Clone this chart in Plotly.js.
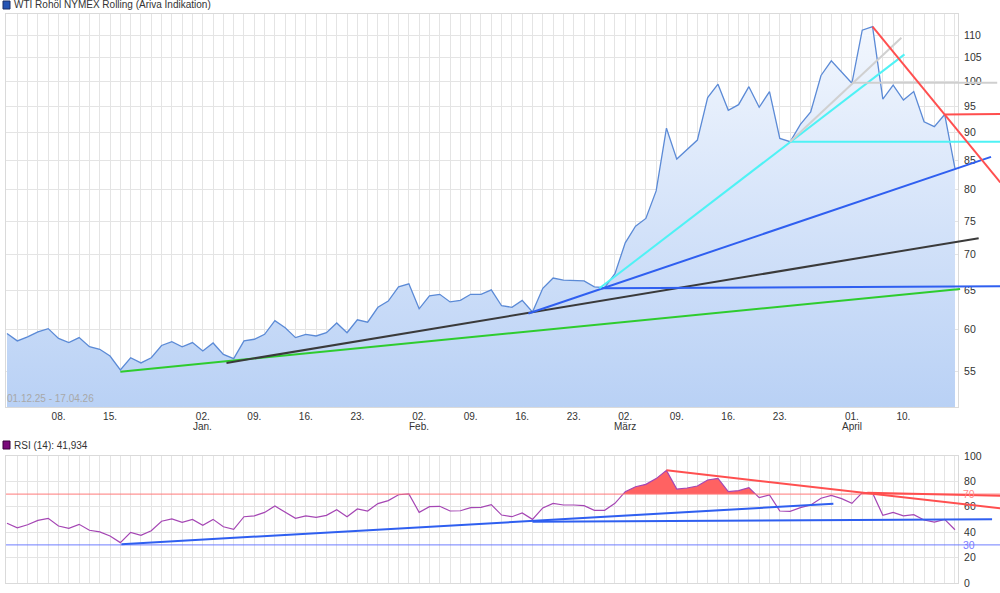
<!DOCTYPE html>
<html><head><meta charset="utf-8">
<script src="https://cdn.plot.ly/plotly-3.0.1.min.js"></script>
<style>html,body{margin:0;padding:0;background:#fff}#chart{width:1000px;height:593px}</style>
</head><body><div id="chart"></div>
<script>
// ---------------- DATA ----------------
const dates = [
 '2025-12-01','2025-12-02','2025-12-03','2025-12-04','2025-12-05','2025-12-08','2025-12-09','2025-12-10','2025-12-11','2025-12-12',
 '2025-12-15','2025-12-16','2025-12-17','2025-12-18','2025-12-19','2025-12-22','2025-12-23','2025-12-29','2025-12-30',
 '2026-01-02','2026-01-05','2026-01-06','2026-01-07','2026-01-08','2026-01-09','2026-01-12','2026-01-13','2026-01-14','2026-01-15','2026-01-16',
 '2026-01-19','2026-01-20','2026-01-21','2026-01-22','2026-01-23','2026-01-26','2026-01-27','2026-01-28','2026-01-29','2026-01-30',
 '2026-02-02','2026-02-03','2026-02-04','2026-02-05','2026-02-06','2026-02-09','2026-02-10','2026-02-11','2026-02-12','2026-02-13',
 '2026-02-16','2026-02-17','2026-02-18','2026-02-19','2026-02-20','2026-02-23','2026-02-24','2026-02-25','2026-02-26','2026-02-27',
 '2026-03-02','2026-03-03','2026-03-04','2026-03-05','2026-03-06','2026-03-09','2026-03-10','2026-03-11','2026-03-12','2026-03-13',
 '2026-03-16','2026-03-17','2026-03-18','2026-03-19','2026-03-20','2026-03-23','2026-03-24','2026-03-25','2026-03-26','2026-03-27',
 '2026-03-30','2026-03-31','2026-04-01','2026-04-02','2026-04-07','2026-04-08','2026-04-09','2026-04-10',
 '2026-04-13','2026-04-14','2026-04-15','2026-04-16','2026-04-17'
];
const price = [
 59.5,58.6,59.1,59.7,60.1,58.9,58.4,59.0,57.9,57.6,
 56.8,55.2,56.6,56.0,56.6,58.05,58.5,57.9,58.4,
 57.4,58.35,57.0,56.5,58.6,58.8,59.4,61.1,60.2,59.0,59.4,
 59.2,59.6,60.8,59.6,61.2,60.9,62.8,63.6,65.5,65.9,
 62.6,64.3,64.5,63.5,63.7,64.5,64.5,65.1,63.0,62.8,
 63.7,62.2,65.3,66.7,66.4,66.4,66.3,65.5,65.4,67.3,
 71.7,74.2,75.4,79.8,90.8,85.2,86.9,88.6,96.7,99.4,
 94.2,95.3,98.9,94.8,97.9,88.9,88.3,91.5,93.9,101.2,
 104.3,102.0,99.6,111.1,111.9,96.4,99.2,96.2,
 97.9,92.0,91.1,93.4,83.6
];
const rsi = [
 47.0,43.5,45.9,49.3,50.9,44.9,43.0,46.2,41.5,40.2,
 37.0,31.8,39.9,37.5,41.2,48.6,50.4,47.8,50.1,
 45.4,50.1,44.3,42.3,52.2,52.8,55.6,60.6,56.0,50.9,52.8,
 51.7,53.3,57.7,52.2,58.3,56.7,62.5,64.9,69.5,70.1,
 55.6,60.1,60.4,56.7,56.9,59.3,59.6,61.7,53.5,52.2,
 55.1,50.1,59.1,62.7,61.4,61.4,60.9,57.2,57.2,62.7,
 71.9,75.8,77.7,82.2,88.7,74.0,74.8,76.4,81.1,82.4,
 71.9,72.7,75.1,67.2,69.3,56.7,56.4,59.3,61.4,66.7,
 69.0,66.4,62.7,71.1,70.9,53.3,55.6,52.8,
 53.8,49.6,48.0,50.1,41.934
];
const tickDates  = ['2025-12-08','2025-12-15','2026-01-02','2026-01-09','2026-01-16','2026-01-23','2026-02-02','2026-02-09','2026-02-16','2026-02-23','2026-03-02','2026-03-09','2026-03-16','2026-03-23','2026-04-01','2026-04-10'];
const tickLabels = ['08.','15.','02.','09.','16.','23.','02.','09.','16.','23.','02.','09.','16.','23.','01.','10.'];
const monthDates  = ['2026-01-02','2026-02-02','2026-03-02','2026-04-01'];
const monthLabels = ['Jan.','Feb.','März','April'];
const priceTicks = [55,60,65,70,75,80,85,90,95,100,105,110];
const rsiTicks = [0,20,40,60,80,100];
const rsiLevels = [70,30];
// price trend lines: start/end position in trading-day index, start/end value
const trendX0 = [11, 21.3, 50.6, 57.7, 57.5, 76, 76, 82, 84, 91];
const trendY0 = [55.0, 56.0, 62.0, 65.3, 65.3, 88.3, 88.3, 99.7, 111.9, 93.4];
const trendX1 = [92.5, 94.3, 95.5, 97.4, 87.1, 97.4, 86.8, 96.1, 96.4, 97.4];
const trendY1 = [65.2, 72.4, 85.6, 65.6, 105.7, 88.3, 109.4, 99.7, 81.2, 93.5];
// RSI trend lines
const rsiTrendX0 = [11.1, 51, 64, 83.5];
const rsiTrendY0 = [30.5, 48.3, 88.7, 71.0];
const rsiTrendX1 = [80.2, 95.6, 96.4, 96.4];
const rsiTrendY1 = [62.4, 50.2, 58.8, 68.6];

// ---------------- STYLE / GEOMETRY ----------------
const trendColors = ['#2ecc2e','#3a3a3a','#2f5ff0','#2f5ff0','#4ff2f5','#4ff2f5','#d0d0d0','#cfcfcf','#ff4f4f','#ff4f4f'];
const rsiTrendColors = ['#2f5ff0','#2f5ff0','#ff4f4f','#ff4f4f'];
const rsiLevelColors = ['#ff7a7a','#6f7dff'];
const W = 1000, H = 593;
const P = {left:6, right:958, far:1000, mainTop:14, mainBot:407, rsiTop:456, rsiBot:583, x0:7, step:10.304};
const FONT = 'Liberation Sans, Arial, sans-serif';
const GRID = '#e4e4e4';

const xi = dates.map((d,i)=>i);
const tickVals = tickDates.map(d=>dates.indexOf(d));
const xMain = [(P.left-P.x0)/P.step, (P.right-P.x0)/P.step];
const xFar  = [(P.left-P.x0)/P.step, (P.far-P.x0)/P.step];
const pxPerDecade = 1118.5, y110 = 35;
const yLog = [Math.log10(110)-(P.mainBot-y110)/pxPerDecade, Math.log10(110)+(y110-P.mainTop)/pxPerDecade];
const dom = (top,bot)=>[1-bot/H, 1-top/H];

// RSI fill above 70 (with crossing points)
const fx=[], fy=[];
for(let i=0;i<rsi.length;i++){
  if(i>0){
    const a=rsi[i-1]-70, b=rsi[i]-70;
    if((a>0&&b<0)||(a<0&&b>0)){ const t=a/(a-b); fx.push(i-1+t); fy.push(70); }
  }
  fx.push(i); fy.push(Math.max(rsi[i],70));
}

const traces = [];
traces.push({x:xi, y:price, type:'scatter', mode:'lines', xaxis:'x', yaxis:'y',
  line:{color:'#5b8ad6', width:1.3}, fill:'tozeroy',
  fillgradient:{type:'vertical', start:Math.pow(10,yLog[0]), stop:Math.pow(10,yLog[1]),
    colorscale:[[0,'#b9d1f5'],[0.45,'#d3e2f9'],[1,'#f4f8fe']]}, hoverinfo:'skip'});
trendX0.forEach((x0,k)=>{
  traces.push({x:[x0,trendX1[k]], y:[trendY0[k],trendY1[k]], type:'scatter', mode:'lines',
    xaxis:'x3', yaxis:'y3', line:{color:trendColors[k], width:2}, hoverinfo:'skip'});
});
traces.push({x:[0,rsi.length-1], y:[70,70], type:'scatter', mode:'lines', xaxis:'x2', yaxis:'y2',
  line:{width:0, color:'rgba(0,0,0,0)'}, hoverinfo:'skip'});
traces.push({x:fx, y:fy, type:'scatter', mode:'lines', xaxis:'x2', yaxis:'y2', fill:'tonexty',
  fillcolor:'#ff6262', line:{width:0, color:'rgba(0,0,0,0)'}, hoverinfo:'skip'});
traces.push({x:xi, y:rsi, type:'scatter', mode:'lines', xaxis:'x2', yaxis:'y2',
  line:{color:'#a546b4', width:1.2}, hoverinfo:'skip'});
rsiLevels.forEach((v,k)=>{
  traces.push({x:[xFar[0],xFar[1]], y:[v,v], type:'scatter', mode:'lines', xaxis:'x4', yaxis:'y4',
    line:{color:rsiLevelColors[k], width:1}, hoverinfo:'skip'});
});
rsiTrendX0.forEach((x0,k)=>{
  traces.push({x:[x0,rsiTrendX1[k]], y:[rsiTrendY0[k],rsiTrendY1[k]], type:'scatter', mode:'lines',
    xaxis:'x4', yaxis:'y4', line:{color:rsiTrendColors[k], width:2}, hoverinfo:'skip'});
});

const xCommon = {tickmode:'array', tickvals:tickVals, showgrid:true, gridcolor:GRID, gridwidth:1,
  minor:{tickmode:'linear', tick0:0, dtick:1, showgrid:true, gridcolor:GRID, gridwidth:1, ticks:''},
  zeroline:false, showline:true, mirror:true, linecolor:'#dadada', linewidth:1, ticks:'',
  tickfont:{family:FONT, size:10, color:'#333'}, fixedrange:true};

const annotations = [
  {xref:'paper', yref:'paper', x:12/W, y:1-5/H, xanchor:'left', yanchor:'middle', showarrow:false,
   text:'WTI Rohöl NYMEX Rolling (Ariva Indikation)', font:{family:FONT, size:10, color:'#333'}},
  {xref:'paper', yref:'paper', x:12/W, y:1-445/H, xanchor:'left', yanchor:'middle', showarrow:false,
   text:'RSI (14): 41,934', font:{family:FONT, size:10, color:'#333'}},
  {xref:'paper', yref:'paper', x:5/W, y:1-398/H, xanchor:'left', yanchor:'middle', showarrow:false,
   text:'01.12.25 - 17.04.26', font:{family:FONT, size:10, color:'#a8a8a8'}},
  {xref:'paper', yref:'y2', x:961/W, y:rsiLevels[0], xanchor:'left', yanchor:'middle', showarrow:false,
   text:String(rsiLevels[0]), font:{family:FONT, size:10.5, color:'#ff8a8a'}},
  {xref:'paper', yref:'y2', x:961/W, y:rsiLevels[1], xanchor:'left', yanchor:'middle', showarrow:false,
   text:String(rsiLevels[1]), font:{family:FONT, size:10.5, color:'#7b7bff'}}
];
monthDates.forEach((d,k)=>{
  annotations.push({xref:'x', yref:'paper', x:dates.indexOf(d), y:1-426/H, xanchor:'center', yanchor:'middle',
    showarrow:false, text:monthLabels[k], font:{family:FONT, size:10, color:'#333'}});
});

const layout = {
  width:W, height:H, margin:{l:0,r:0,t:0,b:0}, showlegend:false,
  paper_bgcolor:'#fff', plot_bgcolor:'rgba(0,0,0,0)',
  font:{family:FONT, size:10, color:'#333'},
  xaxis: Object.assign({}, xCommon, {domain:[P.left/W, P.right/W], range:xMain, anchor:'y', ticktext:tickLabels}),
  yaxis: {domain:dom(P.mainTop,P.mainBot), type:'log', range:yLog, anchor:'x', side:'right',
    tickmode:'array', tickvals:priceTicks, ticktext:priceTicks.map(String), showgrid:true, gridcolor:GRID,
    zeroline:false, showline:true, mirror:true, linecolor:'#dadada', ticks:'outside', ticklen:3, tickcolor:'rgba(0,0,0,0)',
    tickfont:{family:FONT, size:10.5, color:'#333'}},
  xaxis2: Object.assign({}, xCommon, {domain:[P.left/W, P.right/W], range:xMain, anchor:'y2', showticklabels:false}),
  yaxis2: {domain:dom(P.rsiTop,P.rsiBot), range:[0,100], anchor:'x2', side:'right',
    tickmode:'array', tickvals:rsiTicks, showgrid:true, gridcolor:GRID, zeroline:false,
    showline:true, mirror:true, linecolor:'#dadada', ticks:'outside', ticklen:3, tickcolor:'rgba(0,0,0,0)',
    tickfont:{family:FONT, size:10.5, color:'#333'}},
  xaxis3: {domain:[P.left/W, P.far/W], range:xFar, anchor:'y3', visible:false},
  yaxis3: {domain:dom(P.mainTop,P.mainBot), type:'log', range:yLog, anchor:'x3', visible:false},
  xaxis4: {domain:[P.left/W, P.far/W], range:xFar, anchor:'y4', visible:false},
  yaxis4: {domain:dom(P.rsiTop,P.rsiBot), range:[0,100], anchor:'x4', visible:false},
  shapes: [
    {type:'rect', xref:'paper', yref:'paper', x0:3/W, x1:10/W, y0:1-9/H, y1:1-1/H, fillcolor:'#2454b4', line:{color:'#1b2f66', width:1}},
    {type:'rect', xref:'paper', yref:'paper', x0:3/W, x1:10/W, y0:1-449/H, y1:1-441/H, fillcolor:'#7a0a7a', line:{color:'#3a003a', width:1}}
  ],
  annotations: annotations
};
Plotly.newPlot('chart', traces, layout, {staticPlot:true, displayModeBar:false});
</script></body></html>
